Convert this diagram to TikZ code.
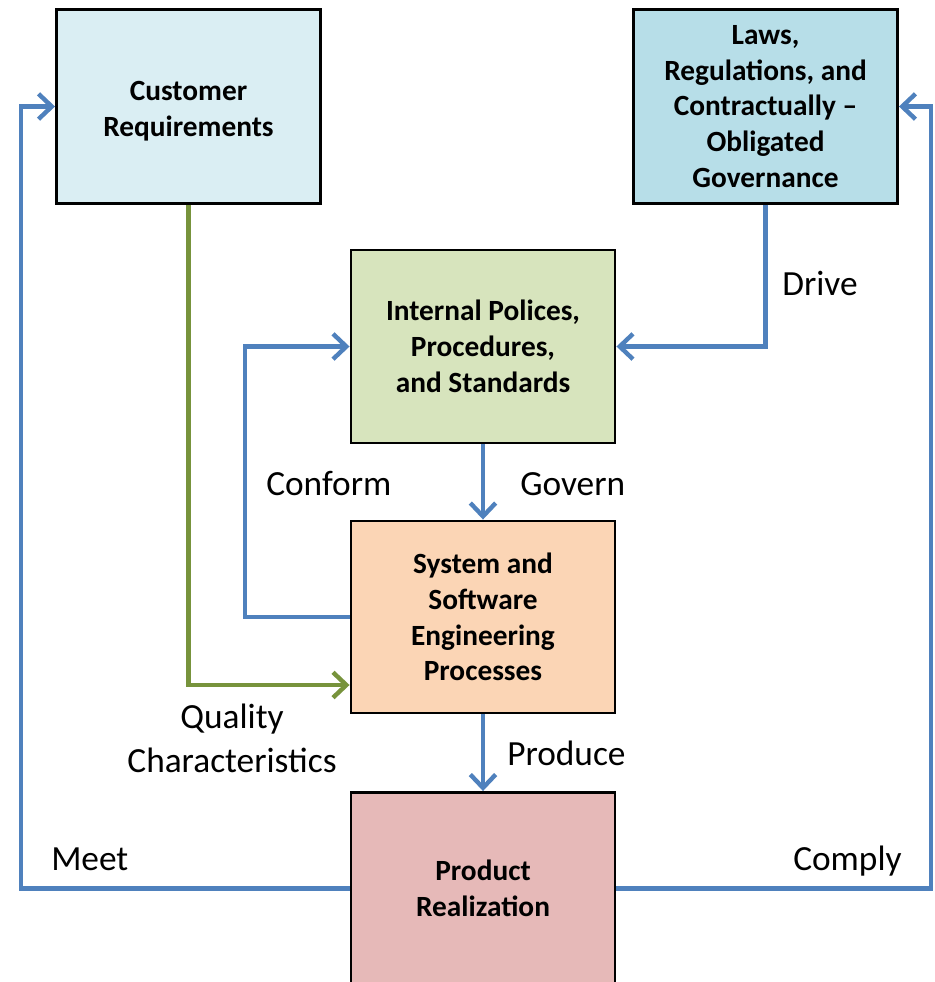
\documentclass[tikz,border=0pt]{standalone}
\usepackage{fontspec}
\setmainfont{Carlito}
\usetikzlibrary{arrows.meta,calc}
\definecolor{custfill}{HTML}{DAEEF3}
\definecolor{lawsfill}{HTML}{B7DEE8}
\definecolor{polfill}{HTML}{D7E4BD}
\definecolor{sysfill}{HTML}{FBD5B5}
\definecolor{prodfill}{HTML}{E6B9B8}
\definecolor{flowblue}{HTML}{4F81BD}
\definecolor{flowgreen}{HTML}{77933C}
\tikzset{
  box/.style={draw=black, line width=2.2pt, align=center, inner sep=0pt,
    minimum width=198pt, font=\fontsize{22}{26.8}\selectfont\bfseries},
  flow/.style={draw=flowblue, line width=3.3pt,
    -{Straight Barb[length=10pt,width=19pt,line width=3.3pt]}},
  gflow/.style={flow, draw=flowgreen},
  lbl/.style={inner sep=0pt, font=\fontsize{26.5}{33}\selectfont, align=center},
}
\begin{document}
\begin{tikzpicture}[x=0.75pt,y=-0.75pt]
\useasboundingbox (0,0) rectangle (935,982);
\fill[white] (0,0) rectangle (935,982);
\clip (0,0) rectangle (935,982);
% boxes
\node[box, fill=custfill, minimum height=145.5pt] (cust) at (188.5,106.5) {\\[-2pt]Customer\\Requirements\\[-20pt]};
\node[box, fill=lawsfill, minimum height=145.5pt] (laws) at (765.5,106.5) {Laws,\\Regulations, and\\Contractually --\\Obligated\\Governance};
\node[box, fill=polfill, minimum height=144.75pt] (pol) at (483,346.5) {Internal Polices,\\Procedures,\\and Standards};
\node[box, fill=sysfill, minimum height=144pt] (sys) at (483,617) {System and\\Software\\Engineering\\Processes};
\node[box, fill=prodfill, minimum height=144pt] (prod) at (483,888.5) {Product\\Realization};
% connectors
\draw[gflow] (cust.south) |- (sys.west |- 0,685);
\draw[flow] (sys.west) -| (245,346.5) -- (pol.west);
\draw[flow] (laws.south) |- (pol.east);
\draw[flow] (pol.south) -- (sys.north);
\draw[flow] (sys.south) -- (prod.north);
\draw[flow] (prod.west) -| (21,106.5) -- (cust.west);
\draw[flow] (prod.east) -| (931,106.5) -- (laws.east);
% labels
\node[lbl, anchor=base west] (ldrive) at (782,295) {Drive};
\node[lbl, anchor=base west] (lconform) at (266,495) {Conform};
\node[lbl, anchor=base west] (lgovern) at (520,495) {Govern};
\node[lbl, anchor=base] (lquality) at (232,772) {Quality\\Characteristics};
\node[lbl, anchor=base west] (lproduce) at (507,765) {Produce};
\node[lbl, anchor=base west] (lmeet) at (51,870) {Meet};
\node[lbl, anchor=base west] (lcomply) at (793,870) {Comply};
\end{tikzpicture}
\end{document}
